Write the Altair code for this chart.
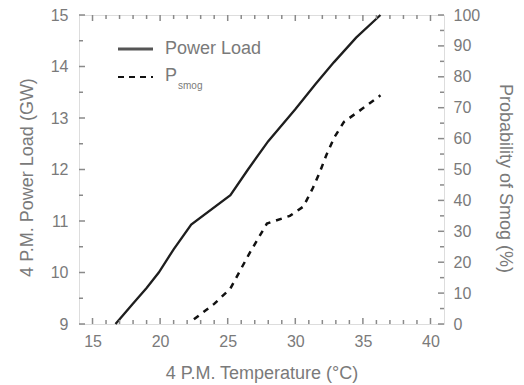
import altair as alt
import pandas as pd

# Power load curve (temperature °C, load GW)
load_temp = [16.7, 18.0, 19.0, 19.9, 21.0, 22.3, 25.2, 26.5, 28.0, 30.0, 31.5, 32.85, 34.5, 36.3]
load_gw = [9.0, 9.4, 9.7, 10.0, 10.45, 10.93, 11.5, 12.0, 12.55, 13.17, 13.66, 14.08, 14.56, 15.0]

# Probability of smog curve (temperature °C, %)
smog_temp = [22.5, 24.0, 25.2, 26.6, 27.9, 29.6, 30.6, 31.3, 31.8, 32.3, 32.9, 33.6, 35.0, 36.3]
smog_pct = [1.5, 6.5, 11.5, 22.8, 32.5, 35.0, 38.0, 44.0, 49.0, 54.7, 60.5, 65.4, 69.8, 74.0]

x_major = [15, 20, 25, 30, 35, 40]
x_minor = [t for t in range(15, 41) if t % 5 != 0]
load_major = [9, 10, 11, 12, 13, 14, 15]
load_minor = [9.5, 10.5, 11.5, 12.5, 13.5, 14.5]
pct_major = [0, 10, 20, 30, 40, 50, 60, 70, 80, 90, 100]
pct_minor = [5, 15, 25, 35, 45, 55, 65, 75, 85, 95]

W, H = 365, 309
GREY = "#8a8a8a"
TXT = "#7a7a7a"
FONT = "Liberation Sans"

xscale = alt.Scale(domain=[14, 41], nice=False, zero=False)
lscale = alt.Scale(domain=[9, 15], nice=False, zero=False)
pscale = alt.Scale(domain=[0, 100], nice=False, zero=False)

common = dict(ticks=False, domain=False, grid=False, labelOverlap=False, labelFontSize=16,
              labelColor=TXT, titleFontSize=18, titleColor=TXT, titleFontWeight="normal",
              labelFont=FONT, titleFont=FONT)
xaxis = alt.Axis(values=x_major, labelPadding=9, title="4 P.M. Temperature (°C)",
                 titlePadding=15, **common)
laxis = alt.Axis(values=load_major, labelPadding=11, title="4 P.M. Power Load (GW)",
                 titlePadding=14, titleY=162, **common)
paxis = alt.Axis(values=pct_major, labelPadding=9, title="Probability of Smog (%)", orient="right",
                 titlePadding=16, titleY=163, **common)

load_df = pd.DataFrame({"temp": load_temp, "load": load_gw})
smog_df = pd.DataFrame({"temp": smog_temp, "pct": smog_pct})

power = alt.Chart(load_df).mark_line(color="#1e1e1e", strokeWidth=2.3).encode(
    x=alt.X("temp:Q", scale=xscale, axis=xaxis),
    y=alt.Y("load:Q", scale=lscale, axis=laxis),
)

def vticks(vals, length, bottom=True):
    df = pd.DataFrame({"temp": vals})
    base = alt.Chart(df).mark_rule(color=GREY, strokeWidth=1.5)
    xenc = alt.X("temp:Q", scale=xscale, axis=xaxis)
    if bottom:
        return base.encode(x=xenc, y=alt.value(H), y2=alt.value(H - length))
    return base.encode(x=xenc, y=alt.value(0), y2=alt.value(length))

def lticks(vals, length):
    df = pd.DataFrame({"load": vals})
    return alt.Chart(df).mark_rule(color=GREY, strokeWidth=1.5).encode(
        y=alt.Y("load:Q", scale=lscale, axis=laxis), x=alt.value(0), x2=alt.value(length))

def pticks(vals, length):
    df = pd.DataFrame({"pct": vals})
    return alt.Chart(df).mark_rule(color=GREY, strokeWidth=1.5).encode(
        y=alt.Y("pct:Q", scale=pscale, axis=paxis), x=alt.value(W), x2=alt.value(W - length))

# legend (decoration)
leg_solid = alt.Chart(pd.DataFrame({"a": [0]})).mark_rule(color="#555555", strokeWidth=3).encode(
    x=alt.value(39), x2=alt.value(74), y=alt.value(34))
leg_dash = alt.Chart(pd.DataFrame({"a": [0]})).mark_rule(color="#111111", strokeWidth=2, strokeDash=[6, 5]).encode(
    x=alt.value(39), x2=alt.value(74), y=alt.value(62))
leg_t1 = alt.Chart(pd.DataFrame({"t": ["Power Load"]})).mark_text(
    align="left", baseline="middle", fontSize=18, color=TXT, font=FONT).encode(
    x=alt.value(86), y=alt.value(34), text="t:N")
leg_t2 = alt.Chart(pd.DataFrame({"t": ["P"]})).mark_text(
    align="left", baseline="middle", fontSize=18, color=TXT, font=FONT).encode(
    x=alt.value(86), y=alt.value(61), text="t:N")
leg_t3 = alt.Chart(pd.DataFrame({"t": ["smog"]})).mark_text(
    align="left", baseline="middle", fontSize=10, color=TXT, font=FONT).encode(
    x=alt.value(99), y=alt.value(71), text="t:N")

left = alt.layer(
    power,
    lticks(load_major, 6), lticks(load_minor, 4),
    vticks(x_major, 6), vticks(x_minor, 4),
    vticks(x_major, 6, bottom=False), vticks(x_minor, 4, bottom=False),
    leg_solid, leg_dash, leg_t1, leg_t2, leg_t3,
)

smog = alt.Chart(smog_df).mark_line(color="#111111", strokeWidth=2.5, strokeDash=[6, 6]).encode(
    x=alt.X("temp:Q", scale=xscale, axis=xaxis),
    y=alt.Y("pct:Q", scale=pscale, axis=paxis),
)
right = alt.layer(smog, pticks(pct_major, 6), pticks(pct_minor, 4))

chart = alt.layer(left, right).resolve_scale(y="independent").properties(
    width=W, height=H,
    autosize=alt.AutoSizeParams(type="none"),
    padding={"left": 71, "top": 7, "right": 72, "bottom": 61},
).configure_view(stroke=GREY, strokeWidth=2).configure(background="white")

chart.save("out.html", embed_options={"renderer": "svg", "actions": False})
